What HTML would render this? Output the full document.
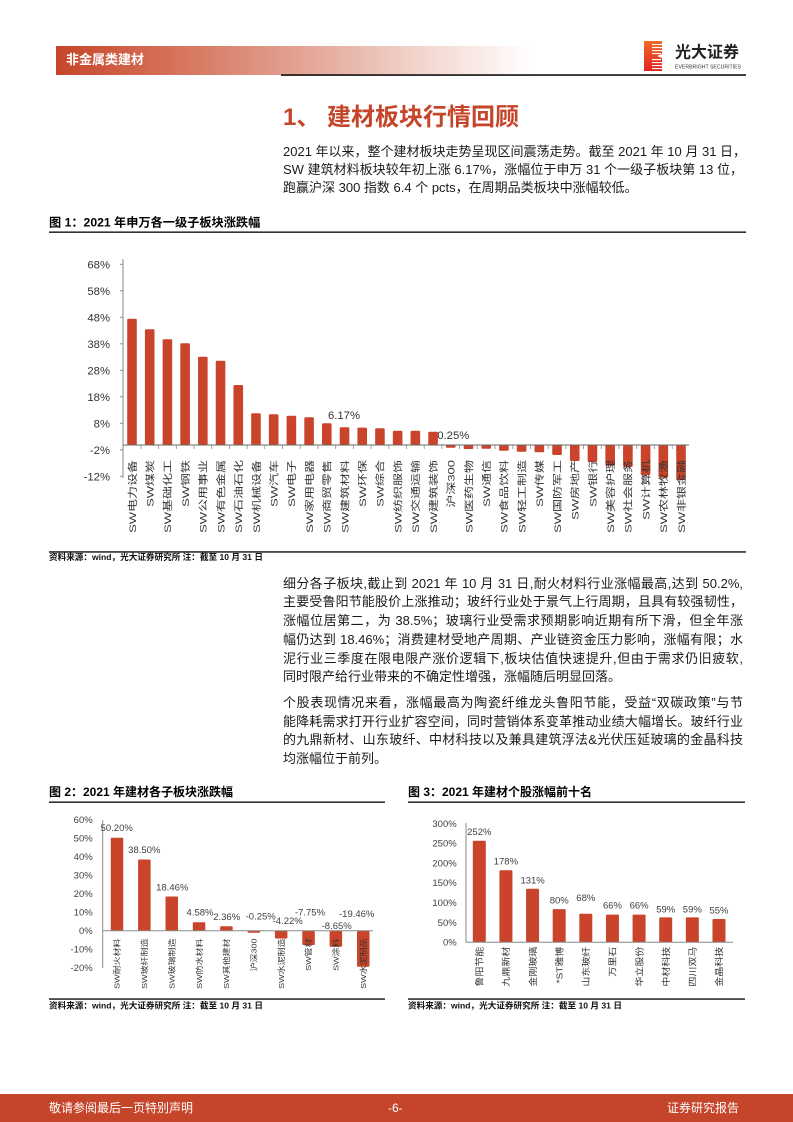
<!DOCTYPE html>
<html>
<head>
<meta charset="utf-8">
<style>
  html,body{margin:0;padding:0;background:#fff;}
  body{width:793px;height:1122px;position:relative;overflow:hidden;
       font-family:"Liberation Sans","Noto Sans CJK SC",sans-serif;}
  svg{position:absolute;left:0;top:0;}
  .ln{position:absolute;left:283px;width:460px;height:18px;line-height:18px;
      font-size:13px;color:#1a1a1a;white-space:nowrap;
      text-align:justify;text-align-last:justify;}
  .ln.last{text-align:left;text-align-last:left;}
  .hdr{position:absolute;left:56px;top:46px;width:475px;height:29px;
       background:linear-gradient(to right,#C6452A 0%,#D2664D 18%,#DC8A76 38%,#E6B0A3 58%,#F2D8D0 78%,#fff 100%);}
  .hdr span{position:absolute;left:10px;top:5px;font-size:13px;font-weight:bold;color:#fff;line-height:18px;}
  .title{position:absolute;left:283px;top:103px;font-size:24px;font-weight:bold;color:#C5452B;line-height:30px;white-space:nowrap;}
  .foot{position:absolute;left:0;top:1094px;width:793px;height:28px;background:#C5452A;color:#fff;font-size:12px;line-height:28px;}
</style>
</head>
<body>

<div class="hdr"><span>非金属类建材</span></div>
<div class="title">1、&nbsp;建材板块行情回顾</div>

<div class="ln" style="top:143px;">2021 年以来，整个建材板块走势呈现区间震荡走势。截至 2021 年 10 月 31 日，</div>
<div class="ln" style="top:161px;">SW 建筑材料板块较年初上涨 6.17%，涨幅位于申万 31 个一级子板块第 13 位，</div>
<div class="ln last" style="top:179px;">跑赢沪深 300 指数 6.4 个 pcts，在周期品类板块中涨幅较低。</div>

<div class="ln" style="top:575px;">细分各子板块,截止到 2021 年 10 月 31 日,耐火材料行业涨幅最高,达到 50.2%,</div>
<div class="ln" style="top:593px;">主要受鲁阳节能股价上涨推动；玻纤行业处于景气上行周期，且具有较强韧性，</div>
<div class="ln" style="top:612px;">涨幅位居第二，为 38.5%；玻璃行业受需求预期影响近期有所下滑，但全年涨</div>
<div class="ln" style="top:631px;">幅仍达到 18.46%；消费建材受地产周期、产业链资金压力影响，涨幅有限；水</div>
<div class="ln" style="top:650px;">泥行业三季度在限电限产涨价逻辑下,板块估值快速提升,但由于需求仍旧疲软,</div>
<div class="ln last" style="top:668px;">同时限产给行业带来的不确定性增强，涨幅随后明显回落。</div>

<div class="ln" style="top:694px;">个股表现情况来看，涨幅最高为陶瓷纤维龙头鲁阳节能，受益“双碳政策”与节</div>
<div class="ln" style="top:713px;">能降耗需求打开行业扩容空间，同时营销体系变革推动业绩大幅增长。玻纤行业</div>
<div class="ln" style="top:731px;">的九鼎新材、山东玻纤、中材科技以及兼具建筑浮法&amp;光伏压延玻璃的金晶科技</div>
<div class="ln last" style="top:750px;">均涨幅位于前列。</div>

<svg width="793" height="1122" viewBox="0 0 793 1122" xmlns="http://www.w3.org/2000/svg" font-family="Liberation Sans, Noto Sans CJK SC, sans-serif">
  <defs>
    <linearGradient id="lg" x1="0" y1="0" x2="0" y2="1">
      <stop offset="0" stop-color="#F26A2B"/>
      <stop offset="1" stop-color="#E2231F"/>
    </linearGradient>
  </defs>

  <!-- header line & logo -->
  <rect x="281" y="74.3" width="465" height="1.5" fill="#000"/>
  <rect x="644" y="41" width="18" height="30" fill="url(#lg)"/>
  <g fill="#fff">
    <rect x="652" y="44" width="10" height="1.1"/>
    <rect x="652" y="47" width="10" height="1.1"/>
    <rect x="652" y="50" width="10" height="1.1"/>
    <rect x="652" y="53" width="9" height="1.1"/>
    <rect x="652" y="59" width="9" height="1.1"/>
    <rect x="652" y="62" width="10" height="1.1"/>
    <rect x="652" y="65" width="10" height="1.1"/>
    <rect x="652" y="68" width="10" height="1.1"/>
    <polygon points="662,54 657,56 662,58"/>
  </g>
  <text x="675" y="57.5" font-size="16" font-weight="bold" fill="#222">光大证券</text>
  <text x="675" y="68.5" font-size="5" fill="#333" textLength="66" lengthAdjust="spacingAndGlyphs">EVERBRIGHT SECURITIES</text>

  <!-- ============ Chart 1 ============ -->
  <text x="49" y="226.5" font-size="12.2" font-weight="bold" fill="#000">图 1：2021 年申万各一级子板块涨跌幅</text>
  <rect x="49" y="231.5" width="697" height="1.3" fill="#000"/>

  <g font-size="11.3" fill="#333" text-anchor="end">
    <text x="110" y="268.3">68%</text>
    <text x="110" y="294.8">58%</text>
    <text x="110" y="321.3">48%</text>
    <text x="110" y="347.8">38%</text>
    <text x="110" y="374.3">28%</text>
    <text x="110" y="400.8">18%</text>
    <text x="110" y="427.3">8%</text>
    <text x="110" y="453.8">-2%</text>
    <text x="110" y="480.3">-12%</text>
  </g>
  <line x1="123" y1="259" x2="123" y2="478" stroke="#8a8a8a" stroke-width="1"/>
  <g stroke="#8a8a8a" stroke-width="1">
    <line x1="120" y1="264.3" x2="123" y2="264.3"/>
    <line x1="120" y1="290.8" x2="123" y2="290.8"/>
    <line x1="120" y1="317.3" x2="123" y2="317.3"/>
    <line x1="120" y1="343.8" x2="123" y2="343.8"/>
    <line x1="120" y1="370.3" x2="123" y2="370.3"/>
    <line x1="120" y1="396.8" x2="123" y2="396.8"/>
    <line x1="120" y1="423.3" x2="123" y2="423.3"/>
    <line x1="120" y1="449.8" x2="123" y2="449.8"/>
    <line x1="120" y1="476.3" x2="123" y2="476.3"/>
  </g>

  <text x="344" y="419" font-size="11.3" fill="#333" text-anchor="middle">6.17%</text>
  <text x="433.5" y="439" font-size="11.3" fill="#333">-0.25%</text>

  <g fill="#C9442A">
    <rect x="127.2" y="318.7" width="9.6" height="126.3" rx="1.2"/>
    <rect x="144.91" y="329.3" width="9.6" height="115.7" rx="1.2"/>
    <rect x="162.62" y="339.3" width="9.6" height="105.7" rx="1.2"/>
    <rect x="180.33" y="343.3" width="9.6" height="101.7" rx="1.2"/>
    <rect x="198.04" y="356.7" width="9.6" height="88.3" rx="1.2"/>
    <rect x="215.75" y="360.7" width="9.6" height="84.3" rx="1.2"/>
    <rect x="233.46" y="385" width="9.6" height="60" rx="1.2"/>
    <rect x="251.17" y="413.3" width="9.6" height="31.7" rx="1.2"/>
    <rect x="268.88" y="414.3" width="9.6" height="30.7" rx="1.2"/>
    <rect x="286.59" y="415.7" width="9.6" height="29.3" rx="1.2"/>
    <rect x="304.3" y="417.3" width="9.6" height="27.7" rx="1.2"/>
    <rect x="322.01" y="423.3" width="9.6" height="21.7" rx="1.2"/>
    <rect x="339.72" y="427.3" width="9.6" height="17.7" rx="1.2"/>
    <rect x="357.43" y="427.6" width="9.6" height="17.4" rx="1.2"/>
    <rect x="375.14" y="428.3" width="9.6" height="16.7" rx="1.2"/>
    <rect x="392.85" y="430.7" width="9.6" height="14.3" rx="1.2"/>
    <rect x="410.56" y="430.7" width="9.6" height="14.3" rx="1.2"/>
    <rect x="428.27" y="431.7" width="9.6" height="13.3" rx="1.2"/>
    <rect x="445.98" y="445" width="9.6" height="2.7" rx="1"/>
    <rect x="463.69" y="445" width="9.6" height="4" rx="1"/>
    <rect x="481.4" y="445" width="9.6" height="3.7" rx="1"/>
    <rect x="499.11" y="445" width="9.6" height="5.7" rx="1"/>
    <rect x="516.82" y="445" width="9.6" height="6.7" rx="1"/>
    <rect x="534.53" y="445" width="9.6" height="7.3" rx="1"/>
    <rect x="552.24" y="445" width="9.6" height="10" rx="1.2"/>
    <rect x="569.95" y="445" width="9.6" height="16" rx="1.2"/>
    <rect x="587.66" y="445" width="9.6" height="17" rx="1.2"/>
    <rect x="605.37" y="445" width="9.6" height="20.7" rx="1.2"/>
    <rect x="623.08" y="445" width="9.6" height="22" rx="1.2"/>
    <rect x="640.79" y="445" width="9.6" height="30" rx="1.2"/>
    <rect x="658.5" y="445" width="9.6" height="32.7" rx="1.2"/>
    <rect x="676.21" y="445" width="9.6" height="35" rx="1.2"/>
  </g>
  <line x1="123" y1="445" x2="689" y2="445" stroke="#666" stroke-width="1"/>
  <g stroke="#8a8a8a" stroke-width="0.8">
    <line x1="140.9" y1="445" x2="140.9" y2="449"/><line x1="158.6" y1="445" x2="158.6" y2="449"/>
    <line x1="176.3" y1="445" x2="176.3" y2="449"/><line x1="194" y1="445" x2="194" y2="449"/>
    <line x1="211.7" y1="445" x2="211.7" y2="449"/><line x1="229.4" y1="445" x2="229.4" y2="449"/>
    <line x1="247.1" y1="445" x2="247.1" y2="449"/><line x1="264.8" y1="445" x2="264.8" y2="449"/>
    <line x1="282.5" y1="445" x2="282.5" y2="449"/><line x1="300.2" y1="445" x2="300.2" y2="449"/>
    <line x1="318" y1="445" x2="318" y2="449"/><line x1="335.7" y1="445" x2="335.7" y2="449"/>
    <line x1="353.4" y1="445" x2="353.4" y2="449"/><line x1="371.1" y1="445" x2="371.1" y2="449"/>
    <line x1="388.8" y1="445" x2="388.8" y2="449"/><line x1="406.5" y1="445" x2="406.5" y2="449"/>
    <line x1="424.2" y1="445" x2="424.2" y2="449"/><line x1="441.9" y1="445" x2="441.9" y2="449"/>
    <line x1="459.6" y1="445" x2="459.6" y2="449"/><line x1="477.3" y1="445" x2="477.3" y2="449"/>
    <line x1="495.1" y1="445" x2="495.1" y2="449"/><line x1="512.8" y1="445" x2="512.8" y2="449"/>
    <line x1="530.5" y1="445" x2="530.5" y2="449"/><line x1="548.2" y1="445" x2="548.2" y2="449"/>
    <line x1="565.9" y1="445" x2="565.9" y2="449"/><line x1="583.6" y1="445" x2="583.6" y2="449"/>
    <line x1="601.3" y1="445" x2="601.3" y2="449"/><line x1="619" y1="445" x2="619" y2="449"/>
    <line x1="636.7" y1="445" x2="636.7" y2="449"/><line x1="654.4" y1="445" x2="654.4" y2="449"/>
    <line x1="672.2" y1="445" x2="672.2" y2="449"/>
  </g>

  <g font-size="13" fill="#333" text-anchor="end">
    <text transform="translate(135.8,460) rotate(-90) scale(1,0.74)">SW电力设备</text>
    <text transform="translate(153.5,460) rotate(-90) scale(1,0.74)">SW煤炭</text>
    <text transform="translate(171.2,460) rotate(-90) scale(1,0.74)">SW基础化工</text>
    <text transform="translate(188.9,460) rotate(-90) scale(1,0.74)">SW钢铁</text>
    <text transform="translate(206.6,460) rotate(-90) scale(1,0.74)">SW公用事业</text>
    <text transform="translate(224.3,460) rotate(-90) scale(1,0.74)">SW有色金属</text>
    <text transform="translate(242.1,460) rotate(-90) scale(1,0.74)">SW石油石化</text>
    <text transform="translate(259.8,460) rotate(-90) scale(1,0.74)">SW机械设备</text>
    <text transform="translate(277.5,460) rotate(-90) scale(1,0.74)">SW汽车</text>
    <text transform="translate(295.2,460) rotate(-90) scale(1,0.74)">SW电子</text>
    <text transform="translate(312.9,460) rotate(-90) scale(1,0.74)">SW家用电器</text>
    <text transform="translate(330.6,460) rotate(-90) scale(1,0.74)">SW商贸零售</text>
    <text transform="translate(348.3,460) rotate(-90) scale(1,0.74)">SW建筑材料</text>
    <text transform="translate(366,460) rotate(-90) scale(1,0.74)">SW环保</text>
    <text transform="translate(383.7,460) rotate(-90) scale(1,0.74)">SW综合</text>
    <text transform="translate(401.4,460) rotate(-90) scale(1,0.74)">SW纺织服饰</text>
    <text transform="translate(419.2,460) rotate(-90) scale(1,0.74)">SW交通运输</text>
    <text transform="translate(436.9,460) rotate(-90) scale(1,0.74)">SW建筑装饰</text>
    <text transform="translate(454.6,460) rotate(-90) scale(1,0.74)">沪深300</text>
    <text transform="translate(472.3,460) rotate(-90) scale(1,0.74)">SW医药生物</text>
    <text transform="translate(490,460) rotate(-90) scale(1,0.74)">SW通信</text>
    <text transform="translate(507.7,460) rotate(-90) scale(1,0.74)">SW食品饮料</text>
    <text transform="translate(525.4,460) rotate(-90) scale(1,0.74)">SW轻工制造</text>
    <text transform="translate(543.1,460) rotate(-90) scale(1,0.74)">SW传媒</text>
    <text transform="translate(560.8,460) rotate(-90) scale(1,0.74)">SW国防军工</text>
    <text transform="translate(578.6,460) rotate(-90) scale(1,0.74)">SW房地产</text>
    <text transform="translate(596.3,460) rotate(-90) scale(1,0.74)">SW银行</text>
    <text transform="translate(614,460) rotate(-90) scale(1,0.74)">SW美容护理</text>
    <text transform="translate(631.7,460) rotate(-90) scale(1,0.74)">SW社会服务</text>
    <text transform="translate(649.4,460) rotate(-90) scale(1,0.74)">SW计算机</text>
    <text transform="translate(667.1,460) rotate(-90) scale(1,0.74)">SW农林牧渔</text>
    <text transform="translate(684.8,460) rotate(-90) scale(1,0.74)">SW非银金融</text>
  </g>

  <rect x="49" y="551.3" width="697" height="1.3" fill="#000"/>
  <text x="49" y="560" font-size="8.6" font-weight="bold" fill="#111">资料来源：wind，光大证券研究所 注：截至 10 月 31 日</text>

  <!-- ============ Chart 2 ============ -->
  <text x="49" y="796" font-size="12" font-weight="bold" fill="#000">图 2：2021 年建材各子板块涨跌幅</text>
  <rect x="49" y="801.5" width="336" height="1.3" fill="#000"/>

  <g font-size="9.5" fill="#404040" text-anchor="end">
    <text x="92.7" y="823.2">60%</text>
    <text x="92.7" y="841.7">50%</text>
    <text x="92.7" y="860.2">40%</text>
    <text x="92.7" y="878.7">30%</text>
    <text x="92.7" y="897.2">20%</text>
    <text x="92.7" y="915.7">10%</text>
    <text x="92.7" y="934.2">0%</text>
    <text x="92.7" y="952.7">-10%</text>
    <text x="92.7" y="971.2">-20%</text>
  </g>
  <line x1="102.7" y1="820" x2="102.7" y2="968" stroke="#8a8a8a" stroke-width="1"/>

  <g fill="#C9442A">
    <rect x="110.75" y="837.8" width="12.5" height="92.9" rx="1"/>
    <rect x="138.1" y="859.5" width="12.5" height="71.2" rx="1"/>
    <rect x="165.5" y="896.5" width="12.5" height="34.2" rx="1"/>
    <rect x="192.8" y="922.2" width="12.5" height="8.5" rx="1"/>
    <rect x="220.2" y="926.3" width="12.5" height="4.4" rx="1"/>
    <rect x="247.55" y="930.7" width="12.5" height="2" rx="0.8"/>
    <rect x="274.9" y="930.7" width="12.5" height="7.8" rx="1"/>
    <rect x="302.3" y="930.7" width="12.5" height="14.3" rx="1"/>
    <rect x="329.6" y="930.7" width="12.5" height="16" rx="1"/>
    <rect x="357" y="930.7" width="12.5" height="36" rx="1"/>
  </g>
  <line x1="102.7" y1="930.7" x2="373" y2="930.7" stroke="#8a8a8a" stroke-width="1"/>

  <g font-size="9.5" fill="#404040" text-anchor="middle">
    <text x="116.7" y="831.2">50.20%</text>
    <text x="144.3" y="853.2">38.50%</text>
    <text x="172.3" y="890.5">18.46%</text>
    <text x="200" y="915.5">4.58%</text>
    <text x="226.7" y="920.2">2.36%</text>
    <text x="260.7" y="919.5">-0.25%</text>
    <text x="287.7" y="924.2">-4.22%</text>
    <text x="310" y="915.5">-7.75%</text>
    <text x="336.7" y="929.2">-8.65%</text>
    <text x="356.7" y="916.8">-19.46%</text>
  </g>

  <g font-size="9" fill="#333" text-anchor="end">
    <text transform="translate(119.7,938.5) rotate(-90) scale(1,0.8)">SW耐火材料</text>
    <text transform="translate(147,938.5) rotate(-90) scale(1,0.8)">SW玻纤制造</text>
    <text transform="translate(174.4,938.5) rotate(-90) scale(1,0.8)">SW玻璃制造</text>
    <text transform="translate(201.8,938.5) rotate(-90) scale(1,0.8)">SW防水材料</text>
    <text transform="translate(229.1,938.5) rotate(-90) scale(1,0.8)">SW其他建材</text>
    <text transform="translate(256.5,938.5) rotate(-90) scale(1,0.8)">沪深300</text>
    <text transform="translate(283.9,938.5) rotate(-90) scale(1,0.8)">SW水泥制造</text>
    <text transform="translate(311.2,938.5) rotate(-90) scale(1,0.8)">SW管材</text>
    <text transform="translate(338.6,938.5) rotate(-90) scale(1,0.8)">SW涂料</text>
    <text transform="translate(366,938.5) rotate(-90) scale(1,0.8)">SW水泥制品</text>
  </g>

  <rect x="49" y="998.4" width="336" height="1.3" fill="#000"/>
  <text x="49" y="1008.3" font-size="8.6" font-weight="bold" fill="#111">资料来源：wind，光大证券研究所 注：截至 10 月 31 日</text>

  <!-- ============ Chart 3 ============ -->
  <text x="408" y="796" font-size="12" font-weight="bold" fill="#000">图 3：2021 年建材个股涨幅前十名</text>
  <rect x="408" y="801.5" width="337" height="1.3" fill="#000"/>

  <g font-size="9.5" fill="#404040" text-anchor="end">
    <text x="456.7" y="826.8">300%</text>
    <text x="456.7" y="846.6">250%</text>
    <text x="456.7" y="866.4">200%</text>
    <text x="456.7" y="886.2">150%</text>
    <text x="456.7" y="906">100%</text>
    <text x="456.7" y="925.8">50%</text>
    <text x="456.7" y="945.6">0%</text>
  </g>
  <line x1="466" y1="823" x2="466" y2="942.3" stroke="#8a8a8a" stroke-width="1"/>

  <g fill="#C9442A">
    <rect x="472.8" y="840.8" width="13" height="101.5" rx="1"/>
    <rect x="499.43" y="870.2" width="13" height="72.1" rx="1"/>
    <rect x="526.06" y="888.8" width="13" height="53.5" rx="1"/>
    <rect x="552.69" y="909.1" width="13" height="33.2" rx="1"/>
    <rect x="579.32" y="913.8" width="13" height="28.5" rx="1"/>
    <rect x="605.95" y="914.6" width="13" height="27.7" rx="1"/>
    <rect x="632.58" y="914.6" width="13" height="27.7" rx="1"/>
    <rect x="659.21" y="917.4" width="13" height="24.9" rx="1"/>
    <rect x="685.84" y="917.4" width="13" height="24.9" rx="1"/>
    <rect x="712.47" y="919" width="13" height="23.3" rx="1"/>
  </g>
  <line x1="466" y1="942.3" x2="733" y2="942.3" stroke="#8a8a8a" stroke-width="1"/>

  <g font-size="9.5" fill="#404040" text-anchor="middle">
    <text x="479.3" y="835.2">252%</text>
    <text x="505.9" y="864.5">178%</text>
    <text x="532.6" y="883.5">131%</text>
    <text x="559.2" y="903.5">80%</text>
    <text x="585.8" y="901.2">68%</text>
    <text x="612.5" y="908.5">66%</text>
    <text x="639.1" y="908.5">66%</text>
    <text x="665.7" y="912.5">59%</text>
    <text x="692.3" y="912.5">59%</text>
    <text x="719" y="913.5">55%</text>
  </g>

  <g font-size="10" fill="#333" text-anchor="end">
    <text transform="translate(482.5,946.7) rotate(-90) scale(1,0.85)">鲁阳节能</text>
    <text transform="translate(509.1,946.7) rotate(-90) scale(1,0.85)">九鼎新材</text>
    <text transform="translate(535.8,946.7) rotate(-90) scale(1,0.85)">金刚玻璃</text>
    <text transform="translate(562.4,946.7) rotate(-90) scale(1,0.85)">*ST雅博</text>
    <text transform="translate(589,946.7) rotate(-90) scale(1,0.85)">山东玻纤</text>
    <text transform="translate(615.7,946.7) rotate(-90) scale(1,0.85)">万里石</text>
    <text transform="translate(642.3,946.7) rotate(-90) scale(1,0.85)">华立股份</text>
    <text transform="translate(668.9,946.7) rotate(-90) scale(1,0.85)">中材科技</text>
    <text transform="translate(695.5,946.7) rotate(-90) scale(1,0.85)">四川双马</text>
    <text transform="translate(722.2,946.7) rotate(-90) scale(1,0.85)">金晶科技</text>
  </g>

  <rect x="408" y="998.4" width="337" height="1.3" fill="#000"/>
  <text x="408" y="1008.3" font-size="8.6" font-weight="bold" fill="#111">资料来源：wind，光大证券研究所 注：截至 10 月 31 日</text>
</svg>

<div class="foot">
  <span style="position:absolute;left:49px;">敬请参阅最后一页特别声明</span>
  <span style="position:absolute;left:388px;">-6-</span>
  <span style="position:absolute;left:667px;">证券研究报告</span>
</div>

</body>
</html>
